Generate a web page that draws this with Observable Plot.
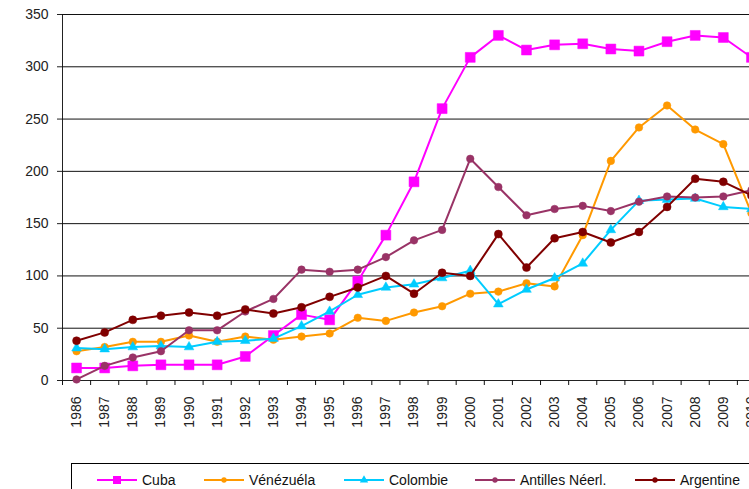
<!DOCTYPE html>
<html><head><meta charset="utf-8">
<script src="https://cdn.jsdelivr.net/npm/d3@7"></script>
<script src="https://cdn.jsdelivr.net/npm/@observablehq/plot@0.6"></script>
<style>
html,body{margin:0;padding:0;background:#fff;overflow:hidden;}
#wrap{position:relative;width:749px;height:489px;overflow:hidden;font-family:"Liberation Sans",Arial,sans-serif;}
#legend{position:absolute;left:71px;top:463px;width:720px;height:44px;border:1px solid #000;box-sizing:border-box;background:#fff;}
.item{position:absolute;top:8px;height:16px;display:flex;align-items:center;font-size:14px;color:#111;white-space:nowrap;}
.item svg{margin-right:5px;}
</style></head><body><div id="wrap"><div id="chart"></div><div id="legend"></div></div>
<script>
const years = [1986,1987,1988,1989,1990,1991,1992,1993,1994,1995,1996,1997,1998,1999,2000,2001,2002,2003,2004,2005,2006,2007,2008,2009,2010];
const seriesNames = ["Cuba","Vénézuéla","Colombie","Antilles Néerl.","Argentine"];
const cuba      = [12,12,14,15,15,15,23,43,63,58,95,139,190,260,309,330,316,321,322,317,315,324,330,328,309];
const venezuela = [28,32,37,37,43,37,42,39,42,45,60,57,65,71,83,85,93,90,139,210,242,263,240,226,160];
const colombie  = [31,30,32,33,32,37,38,40,52,66,82,89,92,98,105,73,87,98,112,144,172,173,174,166,164];
const antilles  = [1,14,22,28,48,48,66,78,106,104,106,118,134,144,212,185,158,164,167,162,171,176,175,176,182];
const argentine = [38,46,58,62,65,62,68,64,70,80,89,100,83,103,100,140,108,136,142,132,142,166,193,190,177];
const yTicks = [0,50,100,150,200,250,300,350];

const colors  = ["#FF00FF","#FF9900","#00CCFF","#993366","#800000"];
const symbols = ["square","circle","triangle","circle","circle"];
const radii   = [5.6,3.8,3.6,3.8,4.0];
const values  = [cuba, venezuela, colombie, antilles, argentine];

const rows = [];
seriesNames.forEach((s, i) => years.forEach((y, j) => rows.push({series: s, year: y, value: values[i][j]})));

const bounds = years.map(y => y - 0.5).concat([years[years.length - 1] + 0.5]);
const tickLen = 5 * 350 / (380 - 14);

const marks = [
  Plot.ruleY(yTicks.filter(v => v > 0), {y: d => d, stroke: "#111", strokeWidth: 1}),
  Plot.ruleX(bounds, {x: d => d, y1: 0, y2: -tickLen, stroke: "#111"})
];
seriesNames.forEach((s, i) => {
  const data = rows.filter(r => r.series === s);
  marks.push(Plot.line(data, {x: "year", y: "value", stroke: colors[i], strokeWidth: 2}));
  marks.push(Plot.dot(data, {x: "year", y: "value", fill: colors[i], stroke: colors[i], strokeWidth: 0.5, symbol: symbols[i], r: radii[i]}));
});

const chart = Plot.plot({
  width: 749,
  height: 489,
  marginLeft: 62,
  marginRight: 0,
  marginTop: 14,
  marginBottom: 109,
  style: {fontFamily: "'Liberation Sans', Arial, sans-serif", fontSize: "14px", color: "#222", background: "white", overflow: "hidden"},
  x: {type: "linear", domain: [1985.5, 2010.5], range: [62, 765], ticks: years, tickFormat: d => String(d), tickRotate: -90, tickSize: 0, tickPadding: 16, line: true, label: null},
  y: {domain: [0, 350], range: [380, 14], ticks: yTicks, tickSize: 5, tickPadding: 9, line: true, label: null},
  marks
});
document.getElementById("chart").appendChild(chart);

// legend
const legend = document.getElementById("legend");
const lefts = [25, 132, 272, 403, 563];
seriesNames.forEach((s, i) => {
  const div = document.createElement("div");
  div.className = "item";
  div.style.left = lefts[i] + "px";
  const ns = "http://www.w3.org/2000/svg";
  const svg = document.createElementNS(ns, "svg");
  svg.setAttribute("width", 40); svg.setAttribute("height", 14);
  const line = document.createElementNS(ns, "line");
  line.setAttribute("x1", 0); line.setAttribute("x2", 40); line.setAttribute("y1", 7); line.setAttribute("y2", 7);
  line.setAttribute("stroke", colors[i]); line.setAttribute("stroke-width", 2);
  svg.appendChild(line);
  const sym = symbols[i] === "square" ? d3.symbolSquare : symbols[i] === "triangle" ? d3.symbolTriangle : d3.symbolCircle;
  const sz = symbols[i] === "square" ? 64 : symbols[i] === "triangle" ? 30 : 22;
  const p = document.createElementNS(ns, "path");
  p.setAttribute("d", d3.symbol(sym, sz)());
  p.setAttribute("transform", "translate(20,7)");
  p.setAttribute("fill", colors[i]);
  svg.appendChild(p);
  div.appendChild(svg);
  const t = document.createElement("span");
  t.textContent = s;
  div.appendChild(t);
  legend.appendChild(div);
});
</script></body></html>
